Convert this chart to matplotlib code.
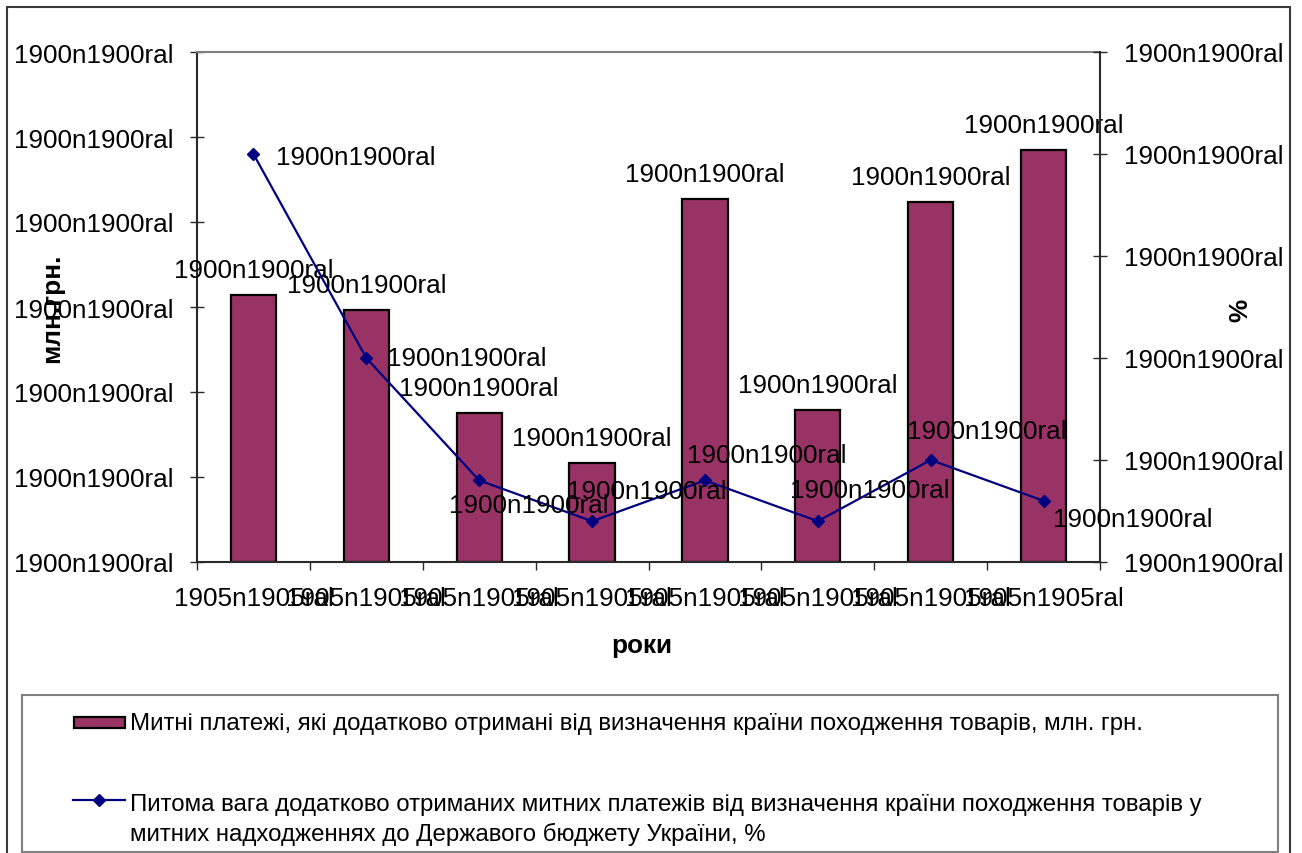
import matplotlib
matplotlib.use("Agg")
import matplotlib.pyplot as plt
from matplotlib.patches import Rectangle
from matplotlib.lines import Line2D

plt.rcParams["font.family"] = ["Liberation Sans", "DejaVu Sans"]

# ---- data ----
years = ["1905n1905ral"] * 8
customs_payments = [3.14, 2.96, 1.75, 1.165, 4.27, 1.79, 4.235, 4.85]   # млн. грн.
share_pct = [4.0, 2.0, 0.8, 0.4, 0.8, 0.4, 1.0, 0.6]                   # %
left_tick_labels = ["1900n1900ral"] * 7
right_tick_labels = ["1900n1900ral"] * 6
bar_value_labels = ["1900n1900ral"] * 8
line_value_labels = ["1900n1900ral"] * 8

bar_name = "Митні платежі, які додатково отримані від визначення країни походження товарів, млн. грн."
line_name_1 = "Питома вага додатково отриманих митних платежів від визначення країни походження товарів у"
line_name_2 = "митних надходженнях до Державого бюджету України, %"

# ---- layout (pixel units) ----
W, H = 1302, 854
# offsets of the line value labels relative to their points (left anchor, centre)
line_label_offsets = [(23, -3), (21, 0), (-30, -25), (-25, 30),
                      (-18, 25), (-28, 31), (-24, 29), (9, -18)]

BAR_COLOR = "#993366"
LINE_COLOR = "#000080"
AXIS_COLOR = "#2a2a2a"
FS = 18.8

fig = plt.figure(figsize=(W / 100, H / 100), dpi=100)
fig.patch.set_facecolor("white")


def fx(x):
    return x / W


def fy(y):
    return 1 - y / H


ax = fig.add_axes([fx(197), fy(563), (1100 - 197) / W, (563 - 53) / H])
ax2 = ax.twinx()
ax2.set_position(ax.get_position())

x = list(range(len(years)))

# bars on the left axis
ax.bar(x, customs_payments, width=0.4, color=BAR_COLOR, edgecolor="black",
       linewidth=1.6, zorder=2)
ax.set_xlim(-0.5, len(years) - 0.5)
ax.set_ylim(0, 6)
ax.set_yticks(range(7))
ax.set_yticklabels(left_tick_labels, fontsize=FS)
ax.tick_params(axis="y", direction="inout", length=10, width=1, pad=12,
               color=AXIS_COLOR)

# category boundaries as major ticks, labels at category centres
ax.set_xticks([i - 0.5 for i in range(len(years) + 1)])
ax.set_xticklabels([""] * (len(years) + 1))
ax.set_xticks(x, minor=True)
ax.set_xticklabels(years, minor=True, fontsize=FS)
ax.tick_params(axis="x", which="major", direction="out", length=6, width=1,
               color=AXIS_COLOR)
ax.tick_params(axis="x", which="minor", length=0, pad=17.5)

for v, lab, xi in zip(customs_payments, bar_value_labels, x):
    ax.annotate(lab, xy=(xi, v), xytext=(0, 25), textcoords="offset pixels",
                ha="center", va="center", fontsize=FS, zorder=5)

# line on the right axis
ax2.plot(x, share_pct, color=LINE_COLOR, linewidth=1.6, marker="D",
         markersize=6.5, zorder=4)
ax2.set_ylim(0, 5)
ax2.set_yticks(range(6))
ax2.set_yticklabels(right_tick_labels, fontsize=FS)
ax2.tick_params(axis="y", direction="inout", length=10, width=1, pad=12,
                color=AXIS_COLOR)
for v, lab, xi, (dx, dy) in zip(share_pct, line_value_labels, x, line_label_offsets):
    ax2.annotate(lab, xy=(xi, v), xytext=(dx, dy), textcoords="offset pixels",
                 ha="left", va="center", fontsize=FS, zorder=6)

# spines
for a in (ax, ax2):
    for s in a.spines.values():
        s.set_visible(False)
ax.spines["left"].set_visible(True)
ax.spines["left"].set_color(AXIS_COLOR)
ax.spines["left"].set_linewidth(1.5)
ax.spines["bottom"].set_visible(True)
ax.spines["bottom"].set_color(AXIS_COLOR)
ax.spines["bottom"].set_linewidth(1.5)
ax.spines["top"].set_visible(True)
ax.spines["top"].set_color("#808080")
ax.spines["top"].set_linewidth(1.5)
ax2.spines["right"].set_visible(True)
ax2.spines["right"].set_color(AXIS_COLOR)
ax2.spines["right"].set_linewidth(1.5)

# axis titles
fig.text(fx(52), fy(308), "млн.грн.", rotation=90, ha="center", va="center",
         fontsize=FS, fontweight="bold")
fig.text(fx(1240), fy(310), "%", rotation=90, ha="center", va="center",
         fontsize=FS, fontweight="bold")
fig.text(fx(642), fy(646), "роки", ha="center", va="center",
         fontsize=FS, fontweight="bold")

# outer chart frame
fig.add_artist(Rectangle((fx(7), fy(870)), (1290 - 7) / W, (870 - 8) / H,
                         transform=fig.transFigure, fill=False,
                         edgecolor="#3a3a3a", linewidth=1.5))

# legend box
fig.add_artist(Rectangle((fx(22), fy(853)), (1278 - 22) / W, (853 - 696) / H,
                         transform=fig.transFigure, fill=False,
                         edgecolor="#808080", linewidth=1.5))
fig.add_artist(Rectangle((fx(74), fy(729)), (125 - 74) / W, (729 - 718) / H,
                         transform=fig.transFigure, facecolor=BAR_COLOR,
                         edgecolor="black", linewidth=1.6))
fig.add_artist(Line2D([fx(73), fx(125)], [fy(801), fy(801)],
                      transform=fig.transFigure, color=LINE_COLOR,
                      linewidth=1.6))
fig.add_artist(Line2D([fx(99)], [fy(801)], transform=fig.transFigure,
                      color=LINE_COLOR, marker="D", markersize=6.5))
LFS = 17.3
fig.text(fx(130), fy(724), bar_name, ha="left", va="center", fontsize=LFS)
fig.text(fx(130), fy(805), line_name_1, ha="left", va="center", fontsize=LFS)
fig.text(fx(130), fy(834), line_name_2, ha="left", va="center", fontsize=LFS)

fig.savefig("out.png", dpi=100)
